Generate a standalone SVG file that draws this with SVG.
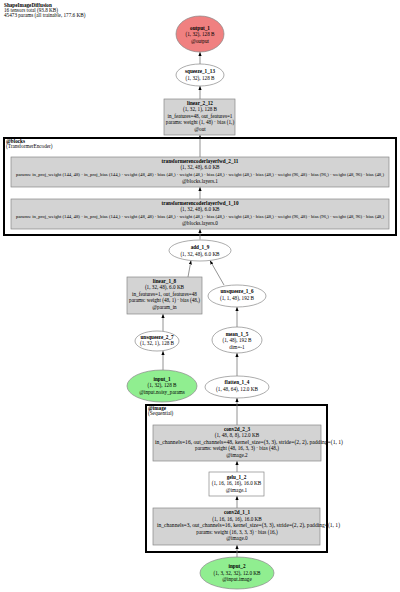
<svg xmlns="http://www.w3.org/2000/svg" width="400" height="592" viewBox="0 0 400 592">
<style>
text{font-family:"Liberation Serif","Times New Roman",serif;font-size:5.2px;fill:#000;text-anchor:middle}
.b{font-weight:bold}
.l{text-anchor:start}
.p{font-size:4.5px}
.box{fill:#d3d3d3;stroke:#888;stroke-width:0.7}
.wbox{fill:#fff;stroke:#888;stroke-width:0.7}
.ell{fill:#fff;stroke:#888;stroke-width:0.7}
.out{fill:#f08080;stroke:#888;stroke-width:0.7}
.in{fill:#90ee90;stroke:#888;stroke-width:0.7}
.cl{fill:none;stroke:#000;stroke-width:2}
.e{stroke:#777;stroke-width:0.8;fill:none;marker-end:url(#ah)}
</style>
<defs>
<marker id="ah" viewBox="0 0 10 10" refX="10" refY="5" markerWidth="4" markerHeight="4" orient="auto" markerUnits="userSpaceOnUse">
<path d="M0,1 L10,5 L0,9 z" fill="#000"/>
</marker>
</defs>
<rect width="400" height="592" fill="#fff"/>
<g id="title">
<text class="l b" x="4" y="6.5">ShapeImageDiffusion</text>
<text class="l" x="4" y="11.5">16 tensors total (93.8 KB)</text>
<text class="l" x="4" y="16.5">45473 params (all trainable, 177.6 KB)</text>
</g>
<g id="cluster_blocks">
<rect class="cl" x="4" y="138" width="392" height="97"/>
<text class="l b" x="6" y="142.5">@blocks</text>
<text class="l" x="6" y="147.5">(TransformerEncoder)</text>
</g>
<g id="cluster_image">
<rect class="cl" x="146" y="405" width="181" height="147"/>
<text class="l b" x="148" y="409.5">@image</text>
<text class="l" x="148" y="414.5">(Sequential)</text>
</g>
<g id="connectors">
<line class="e" x1="200" y1="64" x2="200" y2="52"/>
<line class="e" x1="200" y1="99" x2="200" y2="86"/>
<line class="e" x1="200" y1="157" x2="200" y2="135"/>
<line class="e" x1="200" y1="199" x2="200" y2="187"/>
<line class="e" x1="200" y1="239.5" x2="200" y2="229"/>
<line class="e" x1="188" y1="277" x2="191" y2="260.5"/>
<line class="e" x1="224" y1="285" x2="210" y2="260.5"/>
<line class="e" x1="163" y1="331" x2="163" y2="314"/>
<line class="e" x1="237" y1="327" x2="237" y2="307"/>
<line class="e" x1="163" y1="370" x2="163" y2="351"/>
<line class="e" x1="237" y1="376" x2="237" y2="353"/>
<line class="e" x1="237" y1="425" x2="237" y2="398"/>
<line class="e" x1="237" y1="472" x2="237" y2="461"/>
<line class="e" x1="237" y1="508" x2="237" y2="496"/>
<line class="e" x1="237" y1="557" x2="237" y2="545"/>
</g>
<g id="output_1">
<ellipse class="out" cx="200" cy="34" rx="24" ry="18"/>
<text class="b" x="200" y="29.5">output_1</text>
<text x="200" y="36">(1, 32), 128 B</text>
<text x="200" y="42.5">@output</text>
</g>
<g id="squeeze_1_13">
<ellipse class="ell" cx="200" cy="75" rx="24" ry="11"/>
<text class="b" x="200" y="73">squeeze_1_13</text>
<text x="200" y="80">(1, 32), 128 B</text>
</g>
<g id="linear_2_12">
<rect class="box" x="164" y="99" width="71" height="36"/>
<text class="b" x="200" y="104.5">linear_2_12</text>
<text x="200" y="111">(1, 32, 1), 128 B</text>
<text x="200" y="117.5">in_features=48, out_features=1</text>
<text x="200" y="124">params: weight (1, 48) · bias (1,)</text>
<text x="200" y="130.5">@out</text>
</g>
<g id="transformerencoderlayerfwd_2_11">
<rect class="box" x="11" y="157" width="378" height="30"/>
<text class="b" x="200" y="162.5">transformerencoderlayerfwd_2_11</text>
<text x="200" y="169">(1, 32, 48), 6.0 KB</text>
<text class="p" x="200" y="175.5" textLength="368" lengthAdjust="spacingAndGlyphs">params: in_proj_weight (144, 48) · in_proj_bias (144,) · weight (48, 48) · bias (48,) · weight (48,) · bias (48,) · weight (48,) · bias (48,) · weight (96, 48) · bias (96,) · weight (48, 96) · bias (48,)</text>
<text x="200" y="182.5">@blocks.layers.1</text>
</g>
<g id="transformerencoderlayerfwd_1_10">
<rect class="box" x="11" y="199" width="378" height="30"/>
<text class="b" x="200" y="204.5">transformerencoderlayerfwd_1_10</text>
<text x="200" y="211">(1, 32, 48), 6.0 KB</text>
<text class="p" x="200" y="217.5" textLength="368" lengthAdjust="spacingAndGlyphs">params: in_proj_weight (144, 48) · in_proj_bias (144,) · weight (48, 48) · bias (48,) · weight (48,) · bias (48,) · weight (48,) · bias (48,) · weight (96, 48) · bias (96,) · weight (48, 96) · bias (48,)</text>
<text x="200" y="224.5">@blocks.layers.0</text>
</g>
<g id="add_1_9">
<ellipse class="ell" cx="200" cy="250.5" rx="31" ry="10.5"/>
<text class="b" x="200" y="249">add_1_9</text>
<text x="200" y="256">(1, 32, 48), 6.0 KB</text>
</g>
<g id="linear_1_8">
<rect class="box" x="127" y="277" width="75" height="37"/>
<text class="b" x="164.5" y="282.5">linear_1_8</text>
<text x="164.5" y="289">(1, 32, 48), 6.0 KB</text>
<text x="164.5" y="295.5">in_features=1, out_features=48</text>
<text x="164.5" y="302">params: weight (48, 1) · bias (48,)</text>
<text x="164.5" y="308.5">@param_in</text>
</g>
<g id="unsqueeze_1_6">
<ellipse class="ell" cx="237" cy="296" rx="29" ry="11"/>
<text class="b" x="237" y="293">unsqueeze_1_6</text>
<text x="237" y="299.5">(1, 1, 48), 192 B</text>
</g>
<g id="unsqueeze_2_7">
<ellipse class="ell" cx="157" cy="341" rx="22" ry="10"/>
<text class="b" x="157" y="338.5">unsqueeze_2_7</text>
<text x="157" y="345">(1, 32, 1), 128 B</text>
</g>
<g id="mean_1_5">
<ellipse class="ell" cx="237" cy="340" rx="25" ry="13"/>
<text class="b" x="237" y="335.5">mean_1_5</text>
<text x="237" y="342">(1, 48), 192 B</text>
<text x="237" y="348.5">dim=-1</text>
</g>
<g id="input_1">
<ellipse class="in" cx="162" cy="386" rx="35" ry="16"/>
<text class="b" x="162" y="380.5">input_1</text>
<text x="162" y="387">(1, 32), 128 B</text>
<text x="162" y="393.5">@input.noisy_params</text>
</g>
<g id="flatten_1_4">
<ellipse class="ell" cx="237" cy="387" rx="32" ry="11"/>
<text class="b" x="237" y="384">flatten_1_4</text>
<text x="237" y="390.5">(1, 48, 64), 12.0 KB</text>
</g>
<g id="conv2d_2_3">
<rect class="box" x="153" y="425" width="168" height="36"/>
<text class="b" x="237" y="430.5">conv2d_2_3</text>
<text x="237" y="437">(1, 48, 8, 8), 12.0 KB</text>
<text class="l" x="155" y="443.5" textLength="188" lengthAdjust="spacingAndGlyphs">in_channels=16, out_channels=48, kernel_size=(3, 3), stride=(2, 2), padding=(1, 1)</text>
<text x="237" y="450">params: weight (48, 16, 3, 3) · bias (48,)</text>
<text x="237" y="456.5">@image.2</text>
</g>
<g id="gelu_1_2">
<rect class="wbox" x="209" y="472" width="55" height="24"/>
<text class="b" x="236.5" y="478.5">gelu_1_2</text>
<text x="236.5" y="485">(1, 16, 16, 16), 16.0 KB</text>
<text x="236.5" y="491.5">@image.1</text>
</g>
<g id="conv2d_1_1">
<rect class="box" x="153" y="508" width="167" height="37"/>
<text class="b" x="237" y="514">conv2d_1_1</text>
<text x="237" y="520.5">(1, 16, 16, 16), 16.0 KB</text>
<text class="l" x="157" y="527" textLength="183" lengthAdjust="spacingAndGlyphs">in_channels=3, out_channels=16, kernel_size=(3, 3), stride=(2, 2), padding=(1, 1)</text>
<text x="237" y="533.5">params: weight (16, 3, 3, 3) · bias (16,)</text>
<text x="237" y="540">@image.0</text>
</g>
<g id="input_2">
<ellipse class="in" cx="237" cy="573" rx="37" ry="16"/>
<text class="b" x="237" y="568">input_2</text>
<text x="237" y="574.5">(1, 3, 32, 32), 12.0 KB</text>
<text x="237" y="581">@input.image</text>
</g>
</svg>
